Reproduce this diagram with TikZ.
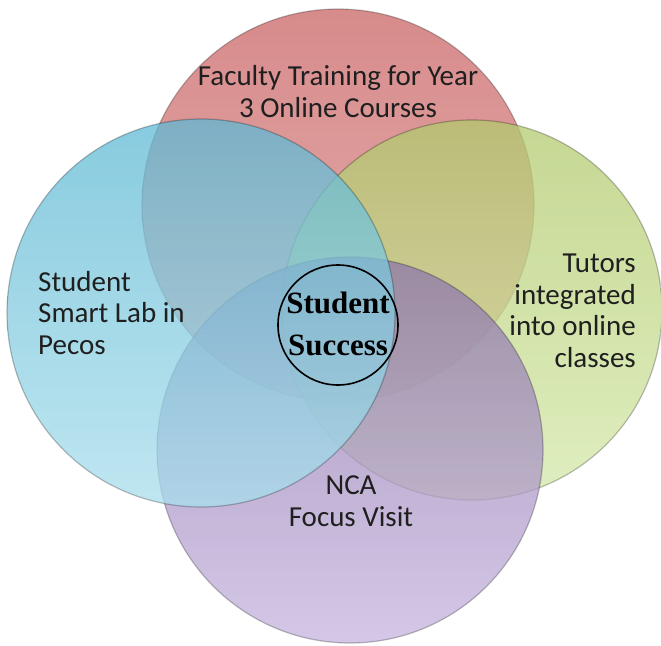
\documentclass[tikz,border=0pt]{standalone}
\usepackage{fontspec}
\setmainfont{Carlito}
\newfontfamily\ssfont{Liberation Serif}
\definecolor{redtop}{RGB}{202,100,100}
\definecolor{redbot}{RGB}{220,150,150}
\definecolor{grntop}{RGB}{178,202,110}
\definecolor{grnbot}{RGB}{212,232,170}
\definecolor{purtop}{RGB}{140,118,170}
\definecolor{purbot}{RGB}{198,180,222}
\definecolor{blutop}{RGB}{95,185,212}
\definecolor{blubot}{RGB}{170,222,236}
\tikzset{
  venn/.style={fill opacity=0.75, draw=black, draw opacity=0.25, line width=1.2pt},
  lbl/.style={font=\fontsize{29}{31.5}\selectfont, text=black!88, inner sep=0pt},
  core/.style={circle, draw=black, line width=1.6pt, minimum size=120pt, inner sep=0pt}
}
\begin{document}
\begin{tikzpicture}[x=1pt,y=-1pt]
\useasboundingbox (0,0) rectangle (661,645);
% circles (drawn bottom to top: red, green, purple, blue)
\shade[venn, top color=redtop, bottom color=redbot] (338,205) circle (196);
\shade[venn, top color=grntop, bottom color=grnbot] (472,310) circle (190);
\shade[venn, top color=purtop, bottom color=purbot] (350,450) circle (193);
\shade[venn, top color=blutop, bottom color=blubot] (201,313) circle (194);
% labels (anchor = baseline of last line)
\node[lbl, align=center, anchor=base] (fac) at (338,117) {Faculty Training for Year\\3 Online Courses};
\node[lbl, align=left, anchor=base west] (lab) at (38,354) {Student\\Smart Lab in\\Pecos};
\node[lbl, align=right, anchor=base east] (tut) at (636,367) {Tutors\\integrated\\into online\\classes};
\node[lbl, align=center, anchor=base] (nca) at (351,526) {NCA\\Focus Visit};
% centre
\node[core] (succ) at (338,325) {};
\node[font=\ssfont\bfseries\fontsize{31}{42}\selectfont, align=center, anchor=base, inner sep=0pt] (succtxt) at (338,355) {Student\\Success};
\end{tikzpicture}
\end{document}
